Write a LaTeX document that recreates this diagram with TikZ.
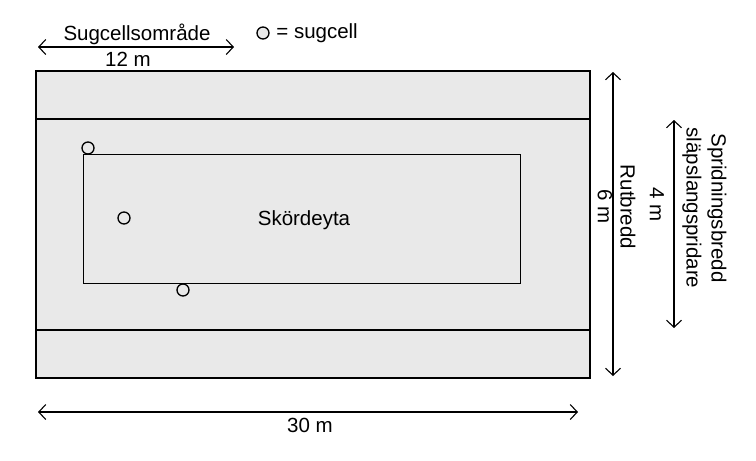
\documentclass[tikz,border=0pt]{standalone}
\usepackage{fontspec}
\setmainfont{Liberation Sans}
\usetikzlibrary{arrows.meta,positioning}
\definecolor{plotgray}{RGB}{233,233,233}

\begin{document}
\begin{tikzpicture}[x=1pt, y=-1pt, line width=1.4pt,
    cell/.style = {draw, circle, fill=plotgray, inner sep=0pt, minimum size=12pt, line width=1.3pt},
    dim/.style = {{Straight Barb[length=7pt,width=15pt]}-{Straight Barb[length=7pt,width=15pt]}, line width=1.1pt},
    lbl/.style = {font=\fontsize{20.5}{24}\selectfont, inner sep=0pt}]
    \useasboundingbox (0,0) rectangle (756,461);
    % plot
    \draw[fill=plotgray] (36,71) rectangle (590,378);
    \draw (36,119) -- (590,119);
    \draw (36,330) -- (590,330);
    \node[draw, fill=plotgray, line width=1.4pt, minimum width=437pt, minimum height=129pt, anchor=north west] (harvest) at (83,154) {};
    \node[lbl] (harvestlbl) at (304,220) {Skördeyta};
    % suction cells
    \node[cell] (c1) at (88,148) {};
    \node[cell] (c2) at (124,218) {};
    \node[cell] (c3) at (183,290) {};
    % legend
    \node[cell] (legend) at (263,33) {};
    \node[lbl, right=6pt of legend] (legendlbl) {= sugcell};
    % dimensions
    \coordinate (t1) at (38,47);
    \coordinate (t2) at (234,47);
    \coordinate (b1) at (38,412);
    \coordinate (b2) at (578,412);
    \coordinate (r1) at (613,72);
    \coordinate (r2) at (613,376);
    \coordinate (s1) at (674,120);
    \coordinate (s2) at (674,328);
    \draw[dim] (t1) -- (t2);
    \draw[dim] (b1) -- (b2);
    \draw[dim] (r1) -- (r2);
    \draw[dim] (s1) -- (s2);
    \node[lbl] (toplbl) at (137,34) {Sugcellsområde};
    \node[lbl] (topval) at (128,59) {12 m};
    \node[lbl] (botval) at (310,425) {30 m};
    \node[lbl, rotate=-90] (rutlbl) at (628,207) {Rutbredd};
    \node[lbl, rotate=-90] (rutval) at (605,207) {6 m};
    \node[lbl, rotate=-90] (sprlbl) at (717,208) {Spridningsbredd};
    \node[lbl, rotate=-90] (sprlbl2) at (692,208) {släpslangspridare};
    \node[lbl, rotate=-90] (sprval) at (657,205) {4 m};
\end{tikzpicture}
\end{document}
